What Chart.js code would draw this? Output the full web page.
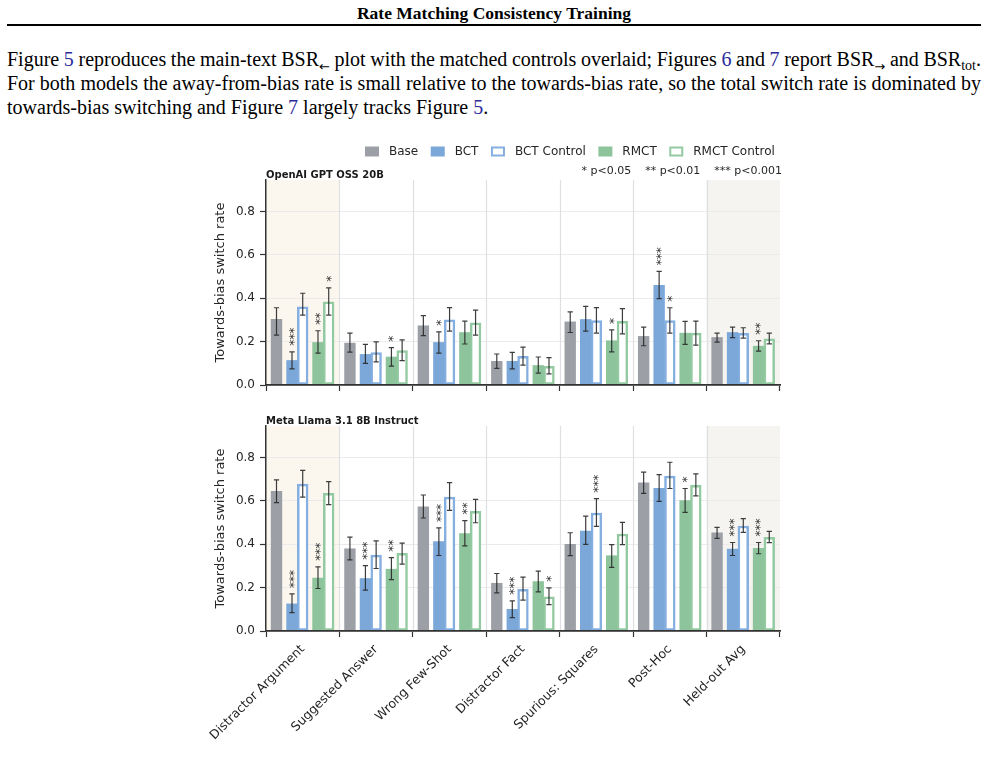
<!DOCTYPE html>
<html><head><meta charset="utf-8">
<script src="https://cdn.jsdelivr.net/npm/chart.js@4.4.1/dist/chart.umd.min.js"></script>
<style>
html,body{margin:0;padding:0;background:#fff;width:988px;height:761px;overflow:hidden;}
#hdr{position:absolute;left:0;top:2px;width:988px;text-align:center;font:bold 17.5px "Liberation Serif","Times New Roman",serif;line-height:22px;color:#000;}
#rule{position:absolute;left:7px;top:24px;width:974px;height:2px;background:#000;}
#para{position:absolute;left:7px;top:47px;width:974px;font:20px "Liberation Serif","Times New Roman",serif;line-height:24px;color:#000;}
.ln{display:block;white-space:nowrap;text-align:left;}
.ln.j{text-align:justify;text-align-last:justify;}
.ref{color:#2a2a9c;}
sub{font-size:70%;line-height:0;vertical-align:-0.3em;}
sub.arr{font-family:"DejaVu Sans",sans-serif;font-size:13px;vertical-align:-0.35em;}
canvas{position:absolute;}
</style></head>
<body>
<div id="hdr">Rate Matching Consistency Training</div>
<div id="rule"></div>
<div id="para">
<div class="ln j"><span class="in">Figure <span class="ref">5</span> reproduces the main-text BSR<sub class="arr">←</sub> plot with the matched controls overlaid; Figures <span class="ref">6</span> and <span class="ref">7</span> report BSR<sub class="arr">→</sub> and BSR<sub>tot</sub>.</span></div>
<div class="ln j"><span class="in">For both models the away-from-bias rate is small relative to the towards-bias rate, so the total switch rate is dominated by</span></div>
<div class="ln"><span class="in">towards-bias switching and Figure <span class="ref">7</span> largely tracks Figure <span class="ref">5</span>.</span></div>
</div>
<canvas id="c1" width="600" height="262" style="left:200px;top:136px;"></canvas>
<canvas id="c2" width="600" height="361" style="left:200px;top:400px;"></canvas>
<script>
// ---------------- DATA ----------------
const categories = ['Distractor Argument','Suggested Answer','Wrong Few-Shot','Distractor Fact','Spurious: Squares','Post-Hoc','Held-out Avg'];
const seriesNames = ['Base','BCT','BCT Control','RMCT','RMCT Control'];
const yTickValues = [0.0,0.2,0.4,0.6,0.8];
const pNote = '* p<0.05    ** p<0.01    *** p<0.001';
const panelTitles = ['OpenAI GPT OSS 20B','Meta Llama 3.1 8B Instruct'];

// OpenAI GPT OSS 20B
const gptBase      = [0.303,0.193,0.273,0.109,0.291,0.224,0.219];
const gptBaseLo    = [0.230,0.152,0.228,0.077,0.242,0.181,0.198];
const gptBaseHi    = [0.356,0.239,0.320,0.143,0.337,0.267,0.239];
const gptBct       = [0.113,0.141,0.196,0.109,0.302,0.460,0.242];
const gptBctLo     = [0.074,0.100,0.147,0.074,0.248,0.398,0.218];
const gptBctHi     = [0.153,0.187,0.245,0.150,0.362,0.524,0.267];
const gptBctCtl    = [0.360,0.149,0.300,0.132,0.297,0.297,0.238];
const gptBctCtlLo  = [0.322,0.107,0.248,0.092,0.239,0.239,0.216];
const gptBctCtlHi  = [0.423,0.199,0.357,0.175,0.357,0.356,0.264];
const gptRmct      = [0.196,0.129,0.242,0.090,0.204,0.239,0.179];
const gptRmctLo    = [0.147,0.087,0.189,0.055,0.153,0.187,0.156];
const gptRmctHi    = [0.250,0.172,0.294,0.129,0.254,0.293,0.204];
const gptRmctCtl   = [0.383,0.159,0.287,0.086,0.294,0.239,0.213];
const gptRmctCtlLo = [0.322,0.112,0.230,0.051,0.236,0.184,0.190];
const gptRmctCtlHi = [0.448,0.208,0.345,0.126,0.352,0.294,0.239];
const gptBaseSig    = ['','','','','','',''];
const gptBctSig     = ['***','','*','','','***',''];
const gptBctCtlSig  = ['','','','','','*',''];
const gptRmctSig    = ['**','*','','','*','','**'];
const gptRmctCtlSig = ['*','','','','','',''];

// Meta Llama 3.1 8B Instruct
const llamaBase      = [0.644,0.379,0.572,0.220,0.399,0.683,0.452];
const llamaBaseLo    = [0.592,0.328,0.521,0.176,0.347,0.634,0.427];
const llamaBaseHi    = [0.697,0.433,0.627,0.265,0.453,0.732,0.478];
const llamaBct       = [0.125,0.242,0.412,0.100,0.461,0.658,0.378];
const llamaBctLo     = [0.085,0.188,0.348,0.062,0.399,0.598,0.348];
const llamaBctHi     = [0.171,0.301,0.475,0.139,0.530,0.721,0.408];
const llamaBctCtl    = [0.677,0.350,0.617,0.192,0.544,0.714,0.484];
const llamaBctCtlLo  = [0.617,0.288,0.556,0.142,0.482,0.657,0.455];
const llamaBctCtlHi  = [0.740,0.415,0.684,0.248,0.610,0.778,0.518];
const llamaRmct      = [0.244,0.285,0.449,0.228,0.347,0.601,0.381];
const llamaRmctLo    = [0.196,0.237,0.392,0.180,0.293,0.547,0.356];
const llamaRmctHi    = [0.296,0.338,0.509,0.276,0.398,0.657,0.408];
const llamaRmctCtl   = [0.635,0.358,0.552,0.157,0.447,0.671,0.432];
const llamaRmctCtlLo = [0.583,0.308,0.499,0.122,0.398,0.623,0.407];
const llamaRmctCtlHi = [0.689,0.405,0.607,0.199,0.501,0.724,0.459];
const llamaBaseSig    = ['','','','','','',''];
const llamaBctSig     = ['***','***','***','***','','','***'];
const llamaBctCtlSig  = ['','','','','***','',''];
const llamaRmctSig    = ['***','**','**','','','*','***'];
const llamaRmctCtlSig = ['','','','*','','',''];

// ---------------- STYLE ----------------
const slotOffsets = [-0.357,-0.146,0,0.208,0.354];
const fillColors  = ['#9ca0a6','#7ba7d9','#ffffff','#8dc49c','#ffffff'];
const edgeColors  = ['#9ca0a6','#7ba7d9','#84afe0','#8dc49c','#93caa2'];
const edgeWidths  = [0,0,2.5,0,2.5];
const shadeColors = {0:'#fbf7ef', 6:'#f5f4f0'};
const FONT = "'DejaVu Sans', 'Liberation Sans', sans-serif";
Chart.defaults.font.family = FONT;

// fit paragraph lines
document.querySelectorAll('#para .ln.j').forEach(el => {
  const inner = el.querySelector('.in');
  el.classList.remove('j');
  let ws = 0;
  while (inner.getBoundingClientRect().width > 973 && ws > -5) { ws -= 0.2; el.style.wordSpacing = ws + 'px'; }
  el.classList.add('j');
});

function makeDatasets(vals, lo, hi, sig) {
  return vals.map((arr, s) => ({
    label: seriesNames[s],
    data: arr.map((v, i) => ({x: i + slotOffsets[s], y: v})),
    errLo: lo[s], errHi: hi[s], sig: sig[s],
    backgroundColor: fillColors[s],
    borderColor: edgeColors[s],
    borderWidth: edgeWidths[s],
    borderSkipped: false,
    grouped: false,
    categoryPercentage: 1,
    barPercentage: 1
  }));
}

const panelPlugin = {
  id: 'panelDeco',
  beforeDraw(chart) {
    const {ctx, chartArea: a, scales: {x}} = chart;
    ctx.save();
    Object.keys(shadeColors).forEach(k => {
      const i = +k;
      const l = x.getPixelForValue(i - 0.5), r = x.getPixelForValue(i + 0.5);
      ctx.fillStyle = shadeColors[k];
      ctx.fillRect(l, a.top, r - l, a.bottom - a.top);
    });
    ctx.restore();
  },
  beforeDatasetsDraw(chart) {
    const {ctx, chartArea: a, scales: {x}} = chart;
    ctx.save();
    ctx.strokeStyle = '#dfe0e4';
    ctx.lineWidth = 1.2;
    for (let i = 0; i < categories.length - 1; i++) {
      const px = Math.round(x.getPixelForValue(i + 0.5)) + 0.5;
      ctx.beginPath(); ctx.moveTo(px, a.top); ctx.lineTo(px, a.bottom); ctx.stroke();
    }
    ctx.restore();
  },
  afterDatasetsDraw(chart) {
    const {ctx, scales: {y}} = chart;
    ctx.save();
    chart.data.datasets.forEach((ds, d) => {
      const meta = chart.getDatasetMeta(d);
      meta.data.forEach((el, j) => {
        const px = el.x;
        const yh = y.getPixelForValue(ds.errHi[j]);
        const yl = y.getPixelForValue(ds.errLo[j]);
        ctx.strokeStyle = 'rgba(40,40,40,0.9)';
        ctx.lineWidth = 1.2;
        ctx.beginPath();
        ctx.moveTo(px, yl); ctx.lineTo(px, yh);
        ctx.moveTo(px - 2.6, yh); ctx.lineTo(px + 2.6, yh);
        ctx.moveTo(px - 2.6, yl); ctx.lineTo(px + 2.6, yl);
        ctx.stroke();
        if (ds.sig[j]) {
          ctx.save();
          ctx.translate(px + 2.8, yh - 6);
          ctx.rotate(-Math.PI / 2);
          ctx.fillStyle = '#2a2a2a';
          ctx.font = '12px ' + FONT;
          ctx.textAlign = 'left';
          ctx.textBaseline = 'middle';
          ctx.fillText(ds.sig[j], 0, 0);
          ctx.restore();
        }
      });
    });
    ctx.restore();
  },
  afterDraw(chart, args, opts) {
    const {ctx, chartArea: a} = chart;
    ctx.save();
    ctx.fillStyle = '#1a1a1a';
    ctx.font = 'bold 10px ' + FONT;
    ctx.textAlign = 'left';
    ctx.textBaseline = 'alphabetic';
    ctx.fillText(opts.title, a.left, a.top - 2);
    if (opts.legend) {
      ctx.fillStyle = '#262626';
      ctx.textAlign = 'right';
      ctx.font = '11px ' + FONT;
      ctx.fillText(pNote, a.right + 2, a.top - 6);
      ctx.font = '12px ' + FONT;
      ctx.textAlign = 'left';
      ctx.textBaseline = 'middle';
      let lx = 165;
      const cy = 15.5;
      seriesNames.forEach((name, s) => {
        if (edgeWidths[s] > 0) {
          ctx.fillStyle = '#ffffff';
          ctx.fillRect(lx, cy - 5, 14, 10);
          ctx.strokeStyle = edgeColors[s];
          ctx.lineWidth = 2;
          ctx.strokeRect(lx + 1, cy - 4, 12, 8);
        } else {
          ctx.fillStyle = fillColors[s];
          ctx.fillRect(lx, cy - 5, 14, 10);
        }
        ctx.fillStyle = '#262626';
        ctx.fillText(name, lx + 24, cy);
        lx += 24 + ctx.measureText(name).width + 12.5;
      });
    }
    ctx.restore();
  }
};

function makeChart(id, vals, lo, hi, sig, opts) {
  return new Chart(document.getElementById(id), {
    type: 'bar',
    data: {datasets: makeDatasets(vals, lo, hi, sig)},
    plugins: [panelPlugin],
    options: {
      responsive: false,
      animation: false,
      devicePixelRatio: 1,
      layout: {padding: {top: opts.padTop, right: 20, left: 0, bottom: 0}},
      plugins: {
        legend: {display: false},
        tooltip: {enabled: false},
        panelDeco: {title: opts.title, legend: opts.legend}
      },
      scales: {
        x: {
          type: 'linear', min: -0.5, max: 6.5, offset: false,
          afterBuildTicks: s => { s.ticks = categories.map((c, i) => ({value: i})); },
          afterFit: s => { s.height = opts.xHeight; s.paddingLeft = 0; s.paddingRight = 0; },
          ticks: {
            autoSkip: false, minRotation: 45, maxRotation: 45, padding: 5,
            display: opts.showLabels,
            font: {size: 12.5, family: FONT}, color: '#1f1f1f',
            callback: v => opts.showLabels ? categories[v] : ''
          },
          grid: {drawOnChartArea: false, drawTicks: true, tickLength: 6, tickColor: '#333', tickWidth: 1.2},
          border: {color: '#333', width: 1.8, z: 1}
        },
        y: {
          min: 0, max: 0.945,
          afterBuildTicks: s => { s.ticks = yTickValues.map(v => ({value: v})); },
          afterFit: s => { s.width = 66; },
          ticks: {font: {size: 12, family: FONT}, color: '#262626', padding: 5, callback: v => v.toFixed(1)},
          grid: {color: '#ebebeb', lineWidth: 1, tickLength: 6, tickColor: '#333', tickWidth: 1.2},
          border: {color: '#333', width: 1.5, z: 1},
          title: {display: true, text: 'Towards-bias switch rate', font: {size: 13, family: FONT}, color: '#262626', padding: {top: 13, bottom: 0}}
        }
      }
    }
  });
}

makeChart('c1',
  [gptBase, gptBct, gptBctCtl, gptRmct, gptRmctCtl],
  [gptBaseLo, gptBctLo, gptBctCtlLo, gptRmctLo, gptRmctCtlLo],
  [gptBaseHi, gptBctHi, gptBctCtlHi, gptRmctHi, gptRmctCtlHi],
  [gptBaseSig, gptBctSig, gptBctCtlSig, gptRmctSig, gptRmctCtlSig],
  {padTop: 44, xHeight: 13, title: panelTitles[0], legend: true, showLabels: false});

makeChart('c2',
  [llamaBase, llamaBct, llamaBctCtl, llamaRmct, llamaRmctCtl],
  [llamaBaseLo, llamaBctLo, llamaBctCtlLo, llamaRmctLo, llamaRmctCtlLo],
  [llamaBaseHi, llamaBctHi, llamaBctCtlHi, llamaRmctHi, llamaRmctCtlHi],
  [llamaBaseSig, llamaBctSig, llamaBctCtlSig, llamaRmctSig, llamaRmctCtlSig],
  {padTop: 26, xHeight: 130, title: panelTitles[1], legend: false, showLabels: true});
</script>
</body></html>
